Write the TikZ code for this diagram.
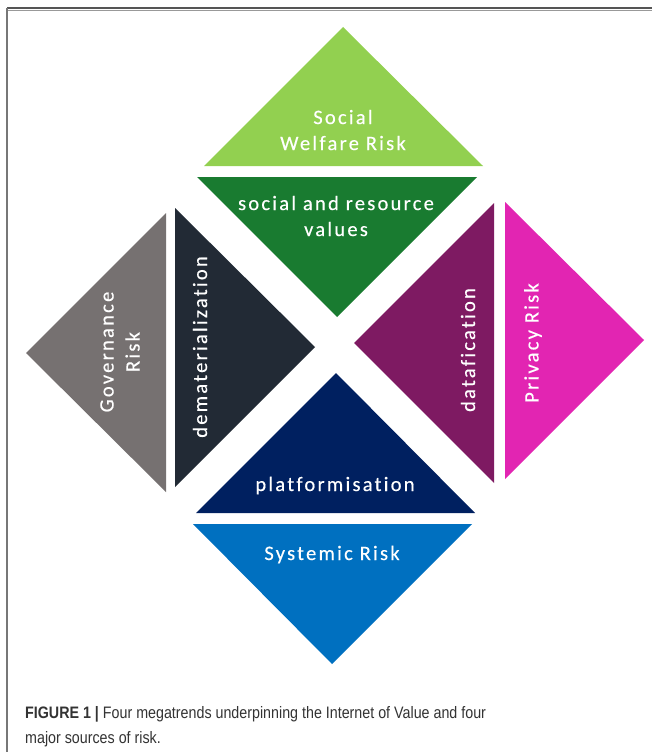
\documentclass[tikz,border=0pt]{standalone}
\usepackage{fontspec}
\newfontfamily\labelfont[LetterSpace=11,Ligatures=NoCommon,FakeBold=0.4]{Carlito}
\newfontfamily\capfont[FakeStretch=0.86]{Liberation Sans}
\definecolor{welfare}{HTML}{92D050}
\definecolor{socialval}{HTML}{197B30}
\definecolor{governance}{HTML}{767171}
\definecolor{demat}{HTML}{222A35}
\definecolor{datafic}{HTML}{7E1A62}
\definecolor{privacy}{HTML}{E225B2}
\definecolor{platform}{HTML}{002060}
\definecolor{systemic}{HTML}{0070C0}
\definecolor{captext}{HTML}{333333}
\definecolor{framegray}{HTML}{555555}
\begin{document}
\begin{tikzpicture}[x=1pt,y=-1pt,
  lbl/.style={text=white,font=\labelfont\fontsize{20.5}{26}\selectfont,align=center,inner sep=0pt},
  vlbl/.style={lbl,rotate=90}]
\useasboundingbox (0,0) rectangle (652,752);
\fill[white] (0,0) rectangle (652,752);
% frame: top and left rules
\draw[framegray,line width=2pt] (7,8.5) -- (652,8.5);
\draw[framegray!60,line width=0.8pt] (7,10) -- (652,10);
\draw[framegray!80,line width=1.2pt] (7,8.5) -- (7,752);

% top pair
\fill[welfare]  (343,27) -- (483,166) -- (204,166) -- cycle;
\fill[socialval] (197,177) -- (477,177) -- (337,317) -- cycle;
% left pair
\fill[governance] (26,353) -- (166,213) -- (166,492) -- cycle;
\fill[demat] (175,208) -- (315,347) -- (175,487) -- cycle;
% right pair
\fill[datafic] (354,343) -- (494,203) -- (494,483) -- cycle;
\fill[privacy] (505,202) -- (644,340) -- (505,479) -- cycle;
% bottom pair
\fill[platform] (336,373) -- (475,513) -- (196,513) -- cycle;
\fill[systemic] (193,524) -- (472,524) -- (332,664) -- cycle;

% labels
\node[lbl] (welfareT) at (343,130) {Social\\Welfare Risk};
\node[lbl] (socialT) at (336,216) {social and resource\\values};
\node[vlbl] (govT) at (120,352) {Governance\\Risk};
\node[vlbl] (dematT) at (200,347) {dematerialization};
\node[vlbl] (dataT) at (468,350) {datafication};
\node[vlbl] (privT) at (533,343) {Privacy Risk};
\node[lbl,anchor=base] (platT) at (335,491) {platformisation};
\node[lbl,anchor=base] (sysT) at (332,560) {Systemic Risk};

% caption
\node[anchor=base west,align=left,inner sep=0pt,text=captext,
      font=\capfont\fontsize{16.6}{25}\selectfont] (caption) at (25,743)
  {\textbf{FIGURE 1 |} Four megatrends underpinning the Internet of Value and four\\major sources of risk.};
\end{tikzpicture}
\end{document}
